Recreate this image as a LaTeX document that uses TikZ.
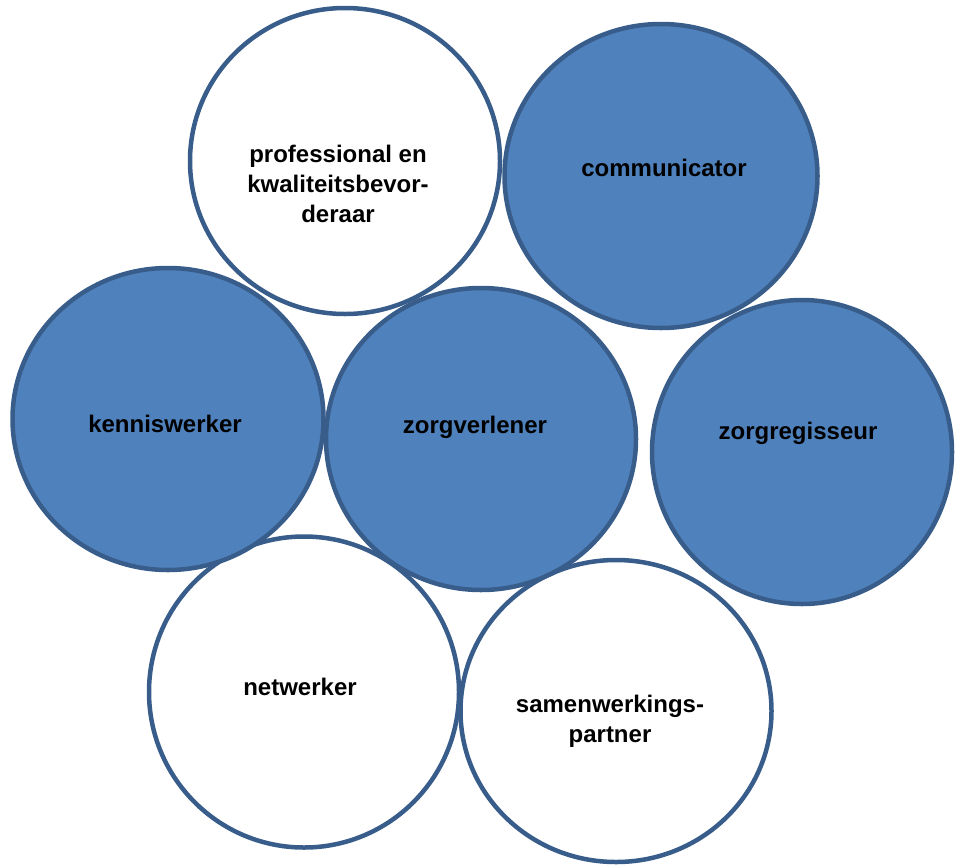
\documentclass[tikz,border=0pt]{standalone}
\usepackage{fontspec}
\setmainfont{Liberation Sans}
\usetikzlibrary{shapes.geometric}
\definecolor{roleblue}{HTML}{4F81BD}
\definecolor{roleedge}{HTML}{385D8A}
\begin{document}
\begin{tikzpicture}[x=1pt,y=-1pt,
  role/.style={ellipse, draw=roleedge, line width=4.5pt, inner sep=0pt},
  whiterole/.style={role, fill=white},
  bluerole/.style={role, fill=roleblue},
  rolelabel/.style={font=\fontsize{24}{30}\selectfont\bfseries, align=center, inner sep=0pt, text=black}]
\useasboundingbox (0,0) rectangle (955,865);
% white circles
\node[whiterole, minimum width=310pt, minimum height=306pt] (prof) at (345,161) {};
\node[whiterole, minimum width=310pt, minimum height=311pt] (netw) at (304,692) {};
\node[whiterole, minimum width=311pt, minimum height=302pt] (samen) at (616,711) {};
% blue circles
\node[bluerole, minimum width=311pt, minimum height=302pt] (kennis) at (168,419) {};
\node[bluerole, minimum width=310pt, minimum height=302pt] (zorgv) at (481,439) {};
\node[bluerole, minimum width=300pt, minimum height=304pt] (zorgr) at (802,452) {};
\node[bluerole, minimum width=313pt, minimum height=304pt] (comm) at (661,176) {};
% labels
\node[rolelabel] (tprof) at (338,184) {professional en\\kwaliteitsbevor-\\deraar};
\node[rolelabel] (tcomm) at (664,168) {communicator};
\node[rolelabel] (tkennis) at (165,424) {kenniswerker};
\node[rolelabel] (tzorgv) at (475,427) {zorgverlener};
\node[rolelabel] (tzorgr) at (798,433) {zorgregisseur};
\node[rolelabel] (tnetw) at (300,687) {netwerker};
\node[rolelabel] (tsamen) at (610,721) {samenwerkings-\\partner};
\end{tikzpicture}
\end{document}
